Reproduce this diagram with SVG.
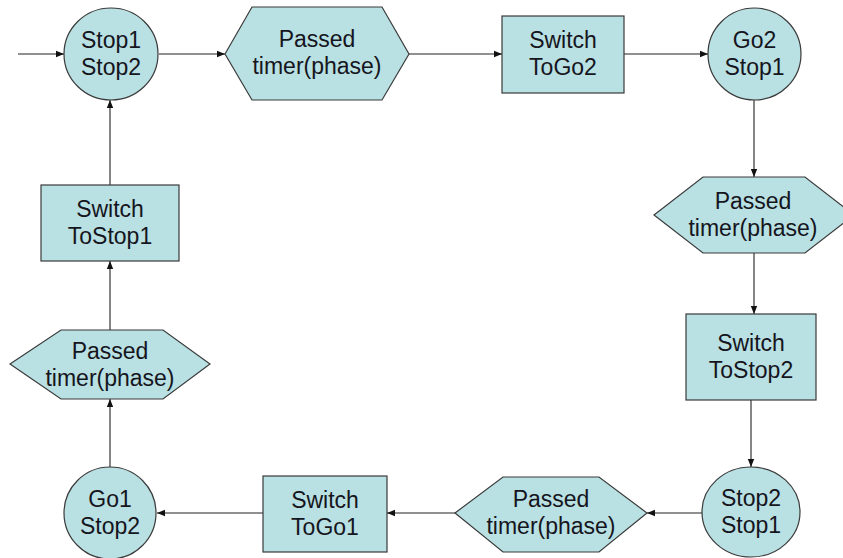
<svg xmlns="http://www.w3.org/2000/svg" width="843" height="558" viewBox="0 0 843 558">
  <defs>
    <style>
      .shape { fill: #b9e0e3; stroke: #3a3a3a; stroke-width: 1.2; }
      .label { font-family: "Liberation Sans", Arial, sans-serif; font-size: 23px; fill: #151520; text-anchor: middle; }
      .wire { stroke: #222; stroke-width: 1.1; fill: none; marker-end: url(#tip); }
    </style>
    <marker id="tip" viewBox="0 0 10 10" refX="10" refY="5" markerWidth="8" markerHeight="8" markerUnits="userSpaceOnUse" orient="auto">
      <path d="M0,1 L10,5 L0,9 Z" fill="#111"/>
    </marker>
  </defs>
  <rect width="843" height="558" fill="#ffffff"/>

  <g id="connectors">
    <line class="wire" x1="18" y1="54" x2="64" y2="54"/>
    <line class="wire" x1="159" y1="54" x2="225" y2="54"/>
    <line class="wire" x1="409" y1="54" x2="502" y2="54"/>
    <line class="wire" x1="624" y1="54" x2="708" y2="54"/>
    <line class="wire" x1="754" y1="100" x2="754" y2="177"/>
    <line class="wire" x1="754" y1="253" x2="754" y2="314"/>
    <line class="wire" x1="751" y1="400" x2="751" y2="467"/>
    <line class="wire" x1="702" y1="513" x2="647" y2="513"/>
    <line class="wire" x1="455" y1="513" x2="387" y2="513"/>
    <line class="wire" x1="263" y1="513" x2="157" y2="513"/>
    <line class="wire" x1="110" y1="467" x2="110" y2="399"/>
    <line class="wire" x1="110" y1="330" x2="110" y2="261"/>
    <line class="wire" x1="110" y1="185" x2="110" y2="100"/>
  </g>

  <g id="stop1-stop2">
    <ellipse class="shape" cx="111" cy="54" rx="47" ry="46"/>
    <text class="label" x="111" y="48">Stop1</text>
    <text class="label" x="111" y="75">Stop2</text>
  </g>

  <g id="timer-1">
    <polygon class="shape" points="225,54 252,7 382,7 409,54 382,100 252,100"/>
    <text class="label" x="317" y="47">Passed</text>
    <text class="label" x="317" y="74">timer(phase)</text>
  </g>

  <g id="switch-togo2">
    <rect class="shape" x="502" y="16" width="122" height="77"/>
    <text class="label" x="563" y="48">Switch</text>
    <text class="label" x="563" y="75">ToGo2</text>
  </g>

  <g id="go2-stop1">
    <ellipse class="shape" cx="754.5" cy="54" rx="46.5" ry="46"/>
    <text class="label" x="754.5" y="48">Go2</text>
    <text class="label" x="754.5" y="75">Stop1</text>
  </g>

  <g id="timer-2">
    <polygon class="shape" points="654,215 703,177 805,177 854,215 805,253 703,253"/>
    <text class="label" x="753" y="209">Passed</text>
    <text class="label" x="753" y="236">timer(phase)</text>
  </g>

  <g id="switch-tostop2">
    <rect class="shape" x="686" y="314" width="130" height="86"/>
    <text class="label" x="751" y="351">Switch</text>
    <text class="label" x="751" y="378">ToStop2</text>
  </g>

  <g id="stop2-stop1">
    <ellipse class="shape" cx="751" cy="512" rx="49" ry="45"/>
    <text class="label" x="751" y="506">Stop2</text>
    <text class="label" x="751" y="533">Stop1</text>
  </g>

  <g id="timer-3">
    <polygon class="shape" points="455,513 503,477 599,477 647,513 599,552 503,552"/>
    <text class="label" x="551" y="507">Passed</text>
    <text class="label" x="551" y="534">timer(phase)</text>
  </g>

  <g id="switch-togo1">
    <rect class="shape" x="263" y="476" width="124" height="76"/>
    <text class="label" x="325" y="508">Switch</text>
    <text class="label" x="325" y="535">ToGo1</text>
  </g>

  <g id="go1-stop2">
    <ellipse class="shape" cx="110" cy="513" rx="46" ry="46"/>
    <text class="label" x="110" y="507">Go1</text>
    <text class="label" x="110" y="534">Stop2</text>
  </g>

  <g id="timer-4">
    <polygon class="shape" points="10,364 61,330 163,330 210,364 163,399 61,399"/>
    <text class="label" x="110" y="359">Passed</text>
    <text class="label" x="110" y="386">timer(phase)</text>
  </g>

  <g id="switch-tostop1">
    <rect class="shape" x="41" y="185" width="138" height="76"/>
    <text class="label" x="110" y="217">Switch</text>
    <text class="label" x="110" y="244">ToStop1</text>
  </g>
</svg>
